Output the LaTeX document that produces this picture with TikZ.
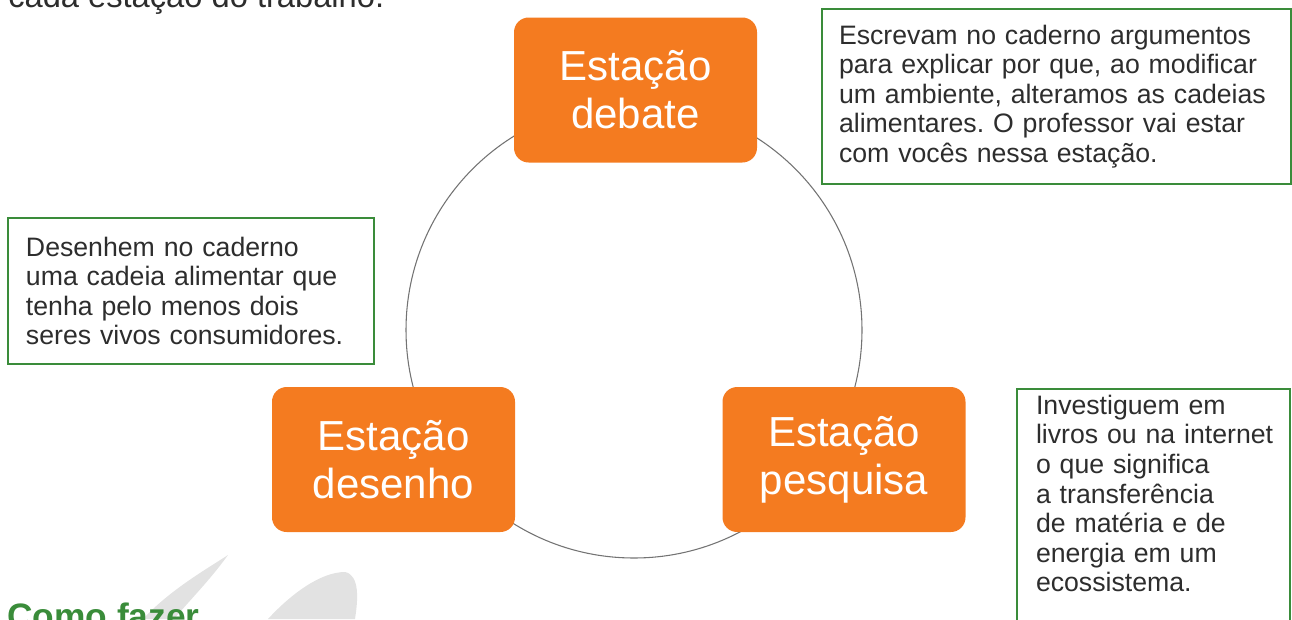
\documentclass[tikz,border=0pt]{standalone}
\usepackage{fontspec}
\setmainfont{Liberation Sans}
\usepackage{xcolor}
\usetikzlibrary{positioning}
\frenchspacing

\definecolor{stationorange}{RGB}{244,123,32}
\definecolor{taskgreen}{RGB}{58,140,58}
\definecolor{bodygray}{RGB}{45,45,45}
\definecolor{leafgray}{RGB}{226,226,226}

\begin{document}
\begin{tikzpicture}[
    x=0.75pt, y=-0.75pt,
    station/.style={rectangle, rounded corners=11pt, fill=stationorange, text=white, minimum width=182.25pt, minimum height=108.75pt, align=center, inner sep=0pt, font=\fontsize{31.5}{36}\selectfont},
    task/.style={rectangle, draw=taskgreen, line width=1.5pt, align=left, anchor=north west, text=bodygray, font=\fontsize{20}{22.2}\selectfont},
    ring/.style={draw=black!55, line width=0.8pt},
    leaf/.style={fill=leafgray, draw=none}
]
\useasboundingbox (0,0) rectangle (1292,619);

% Leaves
\fill[leaf] (143,619) .. controls (170,590) and (205,570) .. (228,555) .. controls (210,580) and (190,600) .. (174,619) -- cycle;
\fill[leaf] (268,619) .. controls (290,595) and (320,572) .. (345,572) .. controls (360,575) and (358,600) .. (355,619) -- cycle;

% Cut-off lines of the page
\node[anchor=base west, inner sep=0pt, text=bodygray, font=\fontsize{24.5}{28}\selectfont] (intro) at (8,7) {cada estação do trabalho.};
\node[anchor=base west, inner sep=0pt, text=taskgreen, font=\fontsize{26.5}{30}\selectfont\bfseries] (howto) at (7,628) {Como fazer};

% Ring behind the stations
\coordinate (hub) at (634,330);
\draw[ring] (hub) circle[radius=171pt];

% Stations
\node[station] (debate) at (635.5,90) {Estação\\debate};
\node[station] (desenho) at (393.5,459.5) {Estação\\desenho};
\node[station] (pesquisa) at (844,459.5) {Estação\\pesquisa};

% Tasks
\node[task, minimum width=351.75pt, minimum height=131.25pt, inner xsep=12.75pt, text width=326.25pt] (debatetask) at (821,8) {Escrevam no caderno argumentos\\para explicar por que, ao modificar\\um ambiente, alteramos as cadeias\\alimentares. O professor vai estar\\com vocês nessa estação.};
\node[task, minimum width=274.5pt, minimum height=109.5pt, inner xsep=13.5pt, text width=247.5pt] (desenhotask) at (7,217) {Desenhem no caderno\\uma cadeia alimentar que\\tenha pelo menos dois\\seres vivos consumidores.};
\node[task, draw=none, inner sep=0pt, text width=186pt] (pesquisatask) at (1035,394) {Investiguem em\\livros ou na internet\\o que significa\\a transferência\\de matéria e de\\energia em um\\ecossistema.};
\draw[taskgreen, line width=1.5pt] (1017,389) rectangle (1290,650);

\end{tikzpicture}
\end{document}
